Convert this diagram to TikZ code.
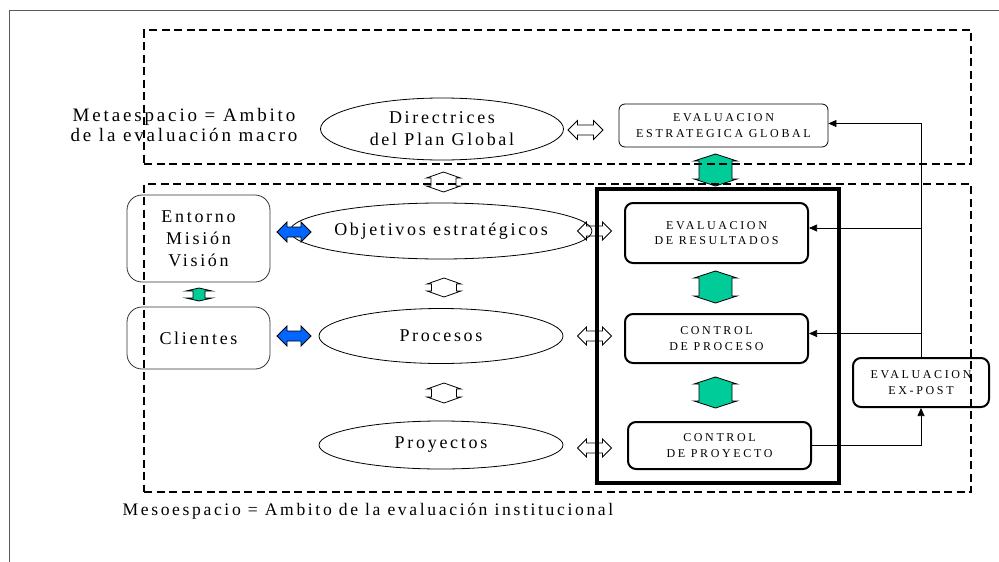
\documentclass[tikz,border=0pt]{standalone}
\usepackage{fontspec}
\setmainfont{Liberation Serif}
\newfontfamily\bigsp[LetterSpace=15]{Liberation Serif}
\newfontfamily\boxsp[LetterSpace=22]{Liberation Serif}
\usetikzlibrary{shapes.geometric,arrows.meta}
\definecolor{bluec}{RGB}{0,102,255}
\definecolor{greenc}{RGB}{0,204,153}
\definecolor{framec}{RGB}{90,90,90}
% #1 style, #2 name, #3 centre, #4 half length, #5 half head width, #6 half shaft width, #7 head length
\newcommand\hblockarrow[7]{%
  \coordinate (#2) at #3;
  \draw[#1, shift={(#2)}] (-#4,0) -- (-#4+#7,-#5) -- (-#4+#7,-#6) -- (#4-#7,-#6) -- (#4-#7,-#5) -- (#4,0)
     -- (#4-#7,#5) -- (#4-#7,#6) -- (-#4+#7,#6) -- (-#4+#7,#5) -- cycle;}
\newcommand\vblockarrow[7]{%
  \coordinate (#2) at #3;
  \draw[#1, shift={(#2)}] (0,-#4) -- (-#5,-#4+#7) -- (-#6,-#4+#7) -- (-#6,#4-#7) -- (-#5,#4-#7) -- (0,#4)
     -- (#5,#4-#7) -- (#6,#4-#7) -- (#6,-#4+#7) -- (#5,-#4+#7) -- cycle;}
\begin{document}
\begin{tikzpicture}[x=1pt,y=-1pt,
  bigtxt/.style={font=\bigsp\fontsize{18}{22}\selectfont, align=center},
  smalltxt/.style={font=\boxsp\fontsize{12}{15.5}\selectfont, align=center},
  oval/.style={draw, ellipse, line width=0.8pt, minimum width=244pt, inner sep=0pt, bigtxt},
  softbox/.style={draw=black!80, rounded corners=15pt, line width=0.8pt, minimum width=143pt, inner sep=0pt, bigtxt},
  evbox/.style={draw, rounded corners=8pt, line width=2pt, minimum width=183pt, inner sep=0pt, smalltxt},
  hollowarrow/.style={draw=black, fill=none, line width=0.8pt, line join=miter},
  bluearrow/.style={draw=black, fill=bluec, line width=0.8pt},
  greenarrow/.style={draw=black, fill=greenc, line width=0.8pt},
  zone/.style={draw, line width=1.6pt, dash pattern=on 8pt off 4.5pt, inner sep=0pt},
  link/.style={line width=0.7pt, -{Triangle[length=8pt,width=7pt]}}
]
\useasboundingbox (0,0) rectangle (999,562);
\fill[white] (0,0) rectangle (999,562);
% outer frame
\coordinate (fbl) at (9,562);
\coordinate (ftl) at (9,10);
\coordinate (ftr) at (999,10);
\draw[framec, line width=0.9pt] (fbl) -- (ftl) -- (ftr);

% labels
\node[font=\bigsp\fontsize{19}{20}\selectfont, align=center] (metalabel) at (184,125) {Metaespacio = Ambito\\de la evaluación macro};
\node[font=\bigsp\fontsize{17.6}{20}\selectfont, anchor=west] (mesolabel) at (119,511) {Mesoespacio = Ambito de la evaluación institucional};

% ellipses
\node[oval, minimum width=243pt, minimum height=62pt] (dir) at (442,129) {Directrices\\del Plan Global};
\node[oval, minimum height=56pt] (obj) at (441,231) {Objetivos estratégicos};
\node[oval, minimum height=55pt] (proc) at (441,336) {Procesos};
\node[oval, minimum height=48pt] (proy) at (441,445) {Proyectos};

% left boxes
\node[softbox, minimum height=87pt] (ent) at (198.5,238.5) {Entorno\\Misión\\Visión};
\node[softbox, minimum height=62pt] (cli) at (198.5,338) {Clientes};

% evaluation boxes
\node[draw, rounded corners=6pt, line width=0.8pt, minimum width=209pt, minimum height=43pt, inner sep=0pt, smalltxt] (evg) at (723.5,125.5) {EVALUACION\\ESTRATEGICA GLOBAL};
\node[draw, line width=4.5pt, minimum width=242pt, minimum height=294pt, inner sep=0pt] (ctrl) at (718,336) {};
\node[evbox, minimum height=60pt] (res) at (716.5,233) {EVALUACION\\DE RESULTADOS};
\node[evbox, minimum height=49pt] (cpr) at (716.5,338.5) {CONTROL\\DE PROCESO};
\node[evbox, minimum height=47pt] (cpy) at (719.5,445.5) {CONTROL\\DE PROYECTO};
\node[evbox, minimum width=136pt, minimum height=49pt] (exp) at (921,382.5) {EVALUACION\\EX-POST};

% connectors
\draw[link] (exp.north) |- ([yshift=2pt]evg.east);
\draw[link] (exp.north |- res.east) ++(0,-5) coordinate (jr) (jr) -- (jr -| res.east);
\draw[link] (exp.north |- cpr.east) ++(0,-5) coordinate (jp) (jp) -- (jp -| cpr.east);
\draw[link] (cpy.east) -| (exp.south);

% block arrows
\hblockarrow{hollowarrow}{a1}{(585.5,130)}{17.5}{9.5}{5}{9.5}
\hblockarrow{hollowarrow}{a2}{(594.5,231)}{17}{9}{5}{9}
\hblockarrow{hollowarrow}{a3}{(594.5,336)}{17}{9}{5}{9}
\hblockarrow{hollowarrow}{a4}{(594.5,448)}{17}{9}{5}{9}
\hblockarrow{bluearrow}{b1}{(294,232)}{17}{10}{5}{10}
\hblockarrow{bluearrow}{b2}{(294,336)}{17}{10}{5}{10}
\vblockarrow{hollowarrow}{v0}{(443.5,182)}{10}{17}{12.5}{6}
\vblockarrow{hollowarrow}{v1}{(444,287.5)}{9.5}{17}{12.5}{6}
\vblockarrow{hollowarrow}{v2}{(444,393)}{10}{17}{12.5}{6}
\vblockarrow{greenarrow}{g0}{(715.5,170)}{16}{21.5}{16.5}{7}
\vblockarrow{greenarrow}{g1}{(715.5,287)}{16}{21.5}{16.5}{7}
\vblockarrow{greenarrow}{g2}{(715.5,392.5)}{15.5}{21.5}{16.5}{7}
\vblockarrow{greenarrow}{g3}{(199,294.5)}{6.5}{13}{6}{3}

% dashed zones
\node[zone, minimum width=827pt, minimum height=134pt] (meta) at (557.5,97) {};
\node[zone, minimum width=827pt, minimum height=308pt] (meso) at (557.5,338) {};
\end{tikzpicture}
\end{document}
